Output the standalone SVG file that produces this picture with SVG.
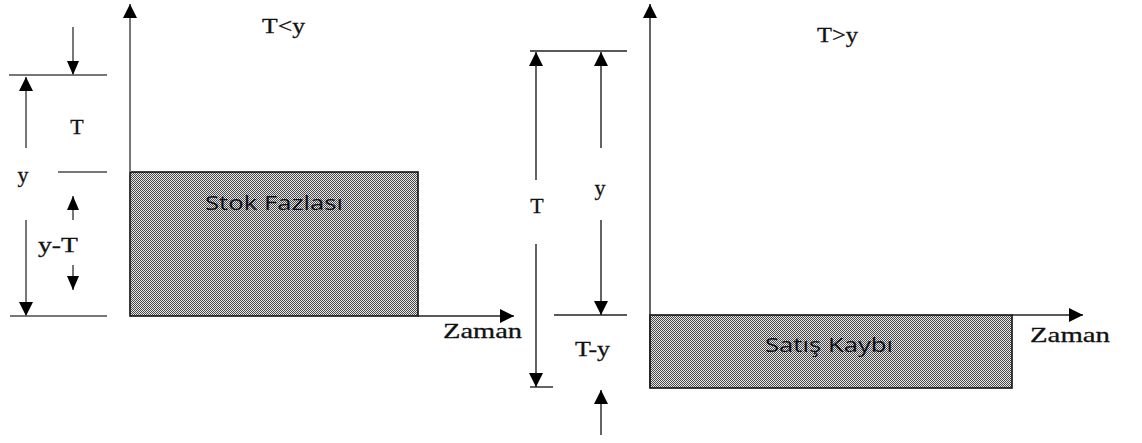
<svg xmlns="http://www.w3.org/2000/svg" width="1142" height="443" viewBox="0 0 1142 443">
<style>
.bg{fill:#fff}
.ln{stroke:#222;stroke-width:1.4;fill:none}
.lg{stroke:#777;stroke-width:2;fill:none}
.ar{marker-end:url(#ah)}
.box{fill:url(#hatch);stroke:#111;stroke-width:1.6}
.lbl{font-family:"Liberation Serif","Times New Roman",serif;font-size:22px;fill:#111;stroke:#111;stroke-width:0.3}
.in{font-family:"Open Sans","Liberation Sans",Arial,sans-serif;font-size:20px;fill:#10101c}
</style>
<defs>
<pattern id="hatch" width="2" height="2" patternUnits="userSpaceOnUse">
<rect width="2" height="2" fill="#e6e6e6"/>
<rect width="1" height="1" fill="#4a4a4a"/>
<rect x="1" y="1" width="1" height="1" fill="#4a4a4a"/>
</pattern>
<marker id="ah" viewBox="0 0 14 14" refX="14" refY="7" markerWidth="14" markerHeight="14" markerUnits="userSpaceOnUse" orient="auto">
<path d="M0,0 L14,7 L0,14 z" fill="#000"/>
</marker>
<marker id="as" viewBox="0 0 14 12" refX="14" refY="6" markerWidth="14" markerHeight="12" markerUnits="userSpaceOnUse" orient="auto">
<path d="M0,0 L14,6 L0,12 z" fill="#000"/>
</marker>
</defs>
<rect class="bg" width="1142" height="443"/>

<g id="stok-fazlasi">
<rect class="box" x="130" y="172" width="288" height="144"/>
<text class="in" x="205" y="210" textLength="138" lengthAdjust="spacingAndGlyphs">Stok Fazlası</text>
</g>
<g id="satis-kaybi">
<rect class="box" x="650" y="315" width="362" height="73"/>
<text class="in" x="765" y="352" textLength="128" lengthAdjust="spacingAndGlyphs">Satış Kaybı</text>
</g>

<g id="connectors">
<line class="lg ar" x1="130" y1="172" x2="130" y2="4"/>
<line class="ln ar" x1="418" y1="316" x2="514" y2="316"/>
<line class="lg" x1="9" y1="75" x2="107" y2="75"/>
<line class="lg" x1="58" y1="172" x2="107" y2="172"/>
<line class="lg" x1="10" y1="316" x2="107" y2="316"/>
<line class="lg" style="marker-end:url(#as)" x1="73" y1="27" x2="73" y2="75"/>
<line class="lg ar" x1="26" y1="148" x2="26" y2="77"/>
<line class="lg" style="marker-end:url(#as)" x1="73" y1="220" x2="73" y2="196"/>
<line class="lg" style="marker-end:url(#as)" x1="73" y1="265" x2="73" y2="290"/>
<line class="lg ar" x1="26" y1="220" x2="26" y2="316"/>
<line class="ln ar" x1="650" y1="388" x2="650" y2="4"/>
<line class="ln ar" x1="1012" y1="315" x2="1083" y2="315"/>
<line class="ln" x1="530" y1="51" x2="627" y2="51"/>
<line class="ln" x1="554" y1="315" x2="627" y2="315"/>
<line class="ln" x1="530" y1="387" x2="553" y2="387"/>
<line class="ln ar" x1="536" y1="180" x2="536" y2="52"/>
<line class="ln ar" x1="536" y1="244" x2="536" y2="387"/>
<line class="ln ar" x1="601" y1="148" x2="601" y2="52"/>
<line class="ln ar" x1="601" y1="220" x2="601" y2="315"/>
<line class="ln ar" x1="601" y1="435" x2="601" y2="390"/>
</g>

<g id="labels">
<text class="lbl" x="262" y="33" textLength="43" lengthAdjust="spacingAndGlyphs">T&lt;y</text>
<text class="lbl" x="817" y="42" textLength="41" lengthAdjust="spacingAndGlyphs">T&gt;y</text>
<text class="lbl" x="77" y="134" text-anchor="middle">T</text>
<text class="lbl" x="23" y="182" text-anchor="middle">y</text>
<text class="lbl" x="38" y="252" textLength="40" lengthAdjust="spacingAndGlyphs">y-T</text>
<text class="lbl" x="443" y="338" textLength="79" lengthAdjust="spacingAndGlyphs">Zaman</text>
<text class="lbl" x="537" y="213" text-anchor="middle">T</text>
<text class="lbl" x="600" y="195" text-anchor="middle">y</text>
<text class="lbl" x="575" y="356" textLength="35" lengthAdjust="spacingAndGlyphs">T-y</text>
<text class="lbl" x="1030" y="342" textLength="80" lengthAdjust="spacingAndGlyphs">Zaman</text>
</g>
</svg>
